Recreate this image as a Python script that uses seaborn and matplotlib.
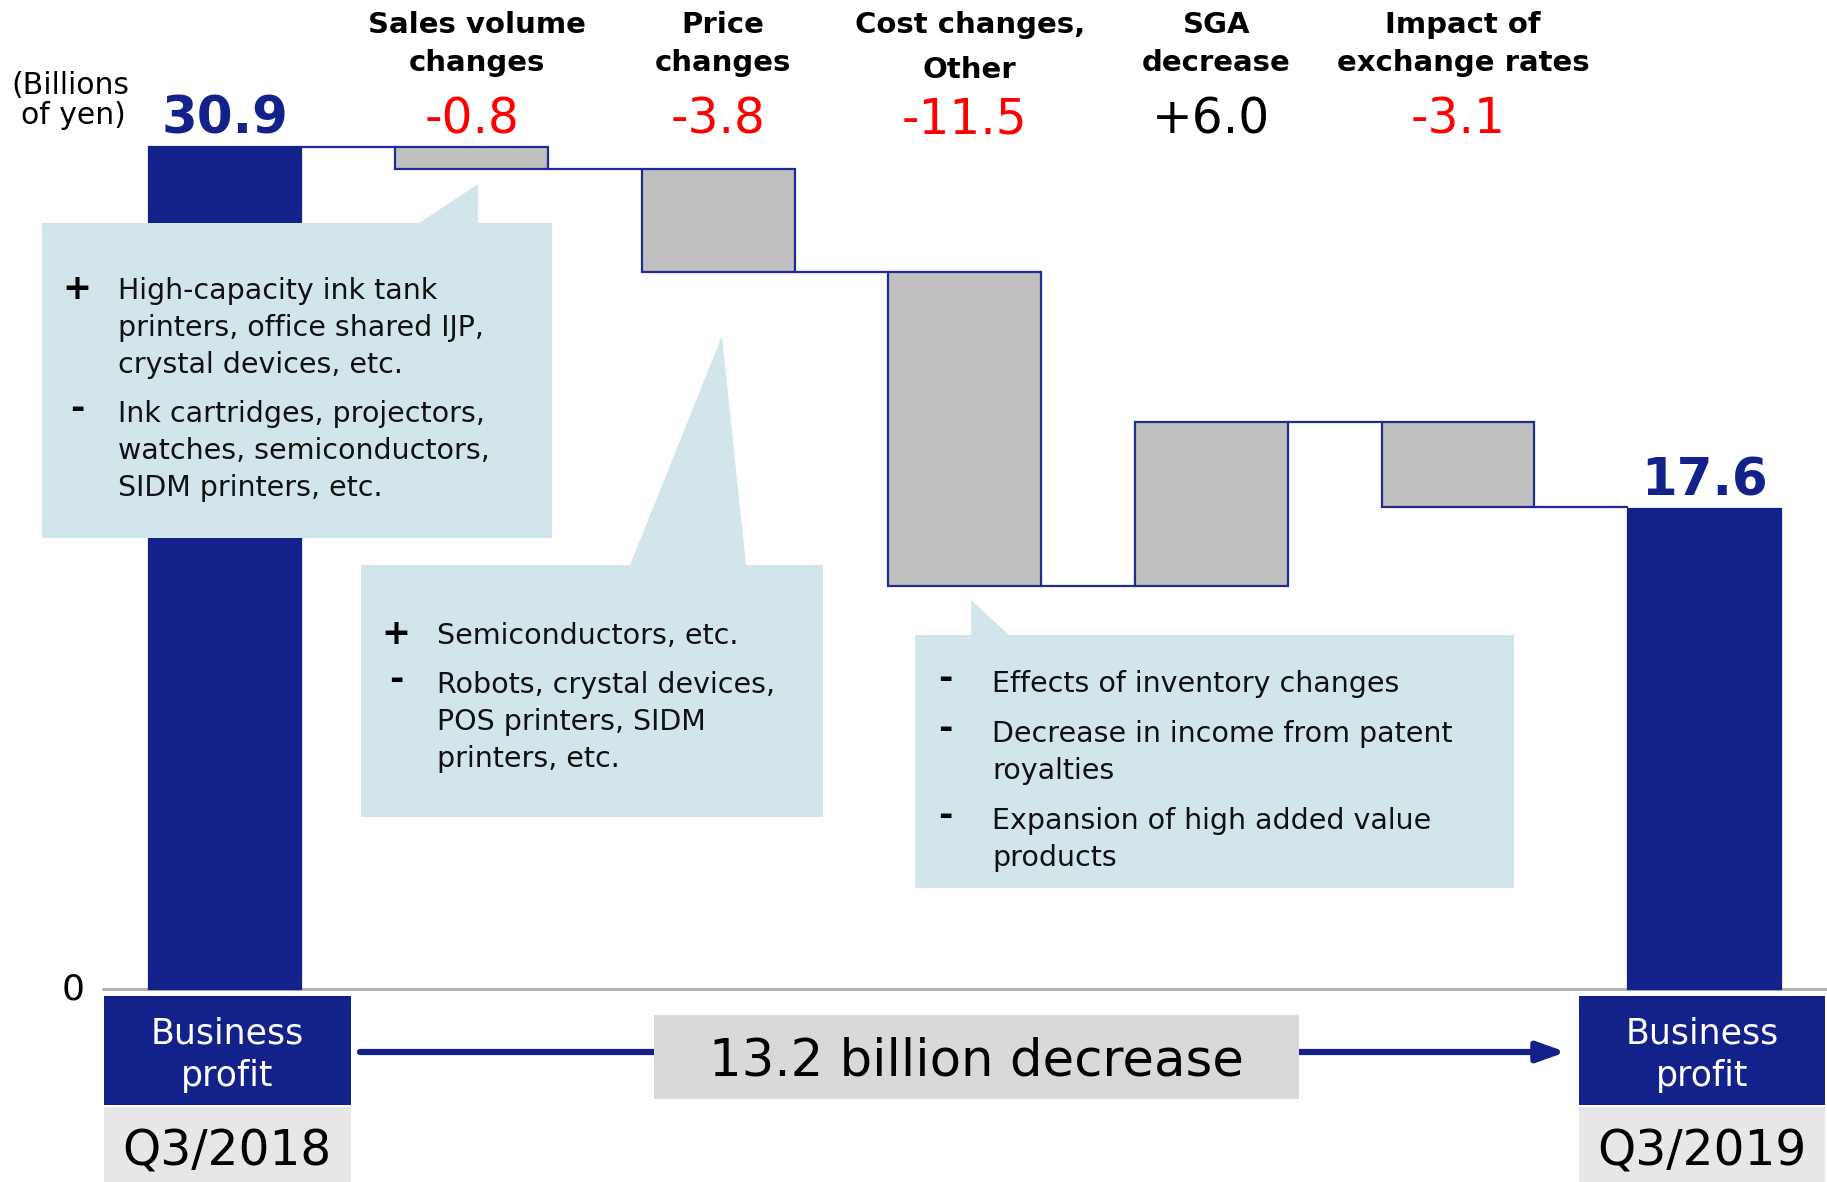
import matplotlib
matplotlib.use("Agg")
import numpy as np
import pandas as pd
import matplotlib.pyplot as plt
import matplotlib.transforms as mtransforms
from matplotlib.patches import Polygon, Rectangle
import seaborn as sns

# ---- business profit bridge (billions of yen) ----
step_names = ["Q3/2018", "Sales volume\nchanges", "Price\nchanges",
              "Cost changes,\nOther", "SGA\ndecrease",
              "Impact of\nexchange rates", "Q3/2019"]
start_profit = 30.9
end_profit = 17.6
step_changes = [-0.8, -3.8, -11.5, 6.0, -3.1]
change_labels = ["-0.8", "-3.8", "-11.5", "+6.0", "-3.1"]
total_labels = ["30.9", "17.6"]
bottom_caption = "Business\nprofit"
decrease_text = "13.2 billion decrease"
unit_text = ["(Billions", "of yen)"]

callout_volume = [("+", ["High-capacity ink tank", "printers, office shared IJP,",
                         "crystal devices, etc."]),
                  ("-", ["Ink cartridges, projectors,", "watches, semiconductors,",
                         "SIDM printers, etc."])]
callout_price = [("+", ["Semiconductors, etc."]),
                 ("-", ["Robots, crystal devices,", "POS printers, SIDM",
                        "printers, etc."])]
callout_cost = [("-", ["Effects of inventory changes"]),
                ("-", ["Decrease in income from patent", "royalties"]),
                ("-", ["Expansion of high added value", "products"])]

# ---- styling ----
NAVY = "#13218A"
EDGE = "#1E2C93"
GRAY = "#BFBFBF"
CALLOUT = "#D1E5EA"
RED = "#FF0000"
W, H = 1827, 1182

sns.set_theme(style="white")
plt.rcParams["font.family"] = ["DejaVu Sans"]

fig = plt.figure(figsize=(W / 100, H / 100), dpi=100)
ax = fig.add_axes([0, 0, 1, 1])

# pixel-space transform (origin top-left) for the surrounding layout
px = mtransforms.Affine2D().scale(1 / W, -1 / H).translate(0, 1) + fig.transFigure

# ---- waterfall geometry from the data ----
levels = np.cumsum([start_profit] + step_changes)
float_bottoms = np.minimum(levels[:-1], levels[1:])
float_heights = np.abs(step_changes)
bar_bottoms = np.concatenate([[0.0], float_bottoms, [0.0]])
bar_heights = np.concatenate([[start_profit], float_heights, [end_profit]])
bar_w = 0.62

df = pd.DataFrame({"step": step_names, "height": bar_heights})
sns.barplot(data=df, x="step", y="height", order=step_names, bottom=bar_bottoms,
            width=bar_w, color=GRAY, saturation=1, edgecolor=EDGE, linewidth=1.6,
            errorbar=None, ax=ax, zorder=2)
bars = ax.containers[0]
for idx in (0, len(step_names) - 1):
    bars[idx].set_facecolor(NAVY)
    bars[idx].set_edgecolor(NAVY)

# connectors between consecutive bars
for i in range(len(levels)):
    ax.hlines(levels[i], i + bar_w / 2, i + 1 - bar_w / 2, color=EDGE, lw=1.6, zorder=2)

ax.set_xlim(-0.9124, 6.4964)
ax.set_ylim(-7.083, 36.294)
ax.axis("off")

# zero baseline
ax.axhline(0, xmin=103 / W, xmax=1, color="#B3B3B3", lw=2.2, zorder=1)
ax.text(73, 989, "0", transform=px, ha="center", va="center", fontsize=26, color="black")

# totals labels
ax.annotate(total_labels[0], xy=(0, start_profit), xytext=(0, 20), textcoords="offset points",
            ha="center", va="center", fontsize=37, fontweight="bold", color=NAVY)
ax.annotate(total_labels[1], xy=(len(step_names) - 1, end_profit), xytext=(0, 20),
            textcoords="offset points", ha="center", va="center", fontsize=37,
            fontweight="bold", color=NAVY)

# step titles and change values
top_row = mtransforms.blended_transform_factory(ax.transData, px)
title_rows = [[25, 63], [25, 63], [25, 70], [25, 63], [25, 63]]
for k, (name, val, lab, rows) in enumerate(
        zip(step_names[1:-1], step_changes, change_labels, title_rows), start=1):
    for line, y in zip(name.split("\n"), rows):
        ax.text(k + 0.02, y, line, transform=top_row, ha="center", va="center",
                fontsize=21, fontweight="bold", color="black")
    ax.text(k, 119, lab, transform=top_row, ha="center", va="center", fontsize=35,
            color=RED if val < 0 else "black")

ax.text(11, 85, unit_text[0], transform=px, ha="left", va="center", fontsize=21.5,
        color="black")
ax.text(21, 116, unit_text[1], transform=px, ha="left", va="center", fontsize=21.5,
        color="black")


# ---- callouts ----
def callout(shape, items, x_bullet, x_text, y0, line_gap=37, group_gap=49):
    ax.add_patch(Polygon(shape, closed=True, transform=px, facecolor=CALLOUT,
                         edgecolor="none", zorder=3, clip_on=False))
    y = y0
    for bullet, lines in items:
        dy = -2 if bullet == "+" else -5
        ax.text(x_bullet, y + dy, bullet, transform=px, ha="center", va="center",
                fontsize=25, fontweight="bold", color="black", zorder=4)
        for j, line in enumerate(lines):
            ax.text(x_text, y + j * line_gap, line, transform=px, ha="left", va="center",
                    fontsize=20.5, color="#111111", zorder=4)
        y += line_gap * (len(lines) - 1) + group_gap


callout([(42, 223), (419, 223), (478, 184), (478, 223), (552, 223), (552, 538), (42, 538)],
        callout_volume, 77, 118, 291)
callout([(361, 565), (630, 565), (722, 336), (746, 565), (823, 565), (823, 817), (361, 817)],
        callout_price, 396, 437, 636)
callout([(915, 635), (971, 635), (971, 600), (1009, 635), (1514, 635), (1514, 888), (915, 888)],
        callout_cost, 945, 992, 684, line_gap=37, group_gap=50)

# ---- bottom period labels ----
for cx, x0, wbox, period in [(227, 104, 247, step_names[0]), (1702, 1579, 246, step_names[-1])]:
    ax.add_patch(Rectangle((x0, 996), wbox, 109, transform=px, facecolor=NAVY,
                           edgecolor="none", zorder=3, clip_on=False))
    ax.add_patch(Rectangle((x0, 1107), wbox, 75, transform=px, facecolor="#E7E7E7",
                           edgecolor="none", zorder=3, clip_on=False))
    for line, y in zip(bottom_caption.split("\n"), [1033, 1076]):
        ax.text(cx, y, line, transform=px, ha="center", va="center", fontsize=25,
                color="white", zorder=4)
    ax.text(cx, 1151, period, transform=px, ha="center", va="center", fontsize=35,
            color="black", zorder=4)

# decrease arrow
ax.annotate("", xy=(1566, 1052), xytext=(360, 1052), xycoords=px, textcoords=px,
            arrowprops=dict(arrowstyle="-|>,head_length=1.4,head_width=0.5", lw=4.5,
                            color=NAVY, shrinkA=0, shrinkB=0), zorder=3)
ax.add_patch(Rectangle((654, 1015), 645, 84, transform=px, facecolor="#D9D9D9",
                       edgecolor="none", zorder=4, clip_on=False))
ax.text(976, 1062, decrease_text, transform=px, ha="center", va="center", fontsize=37,
        color="black", zorder=5)

fig.savefig("out.png", dpi=100)
